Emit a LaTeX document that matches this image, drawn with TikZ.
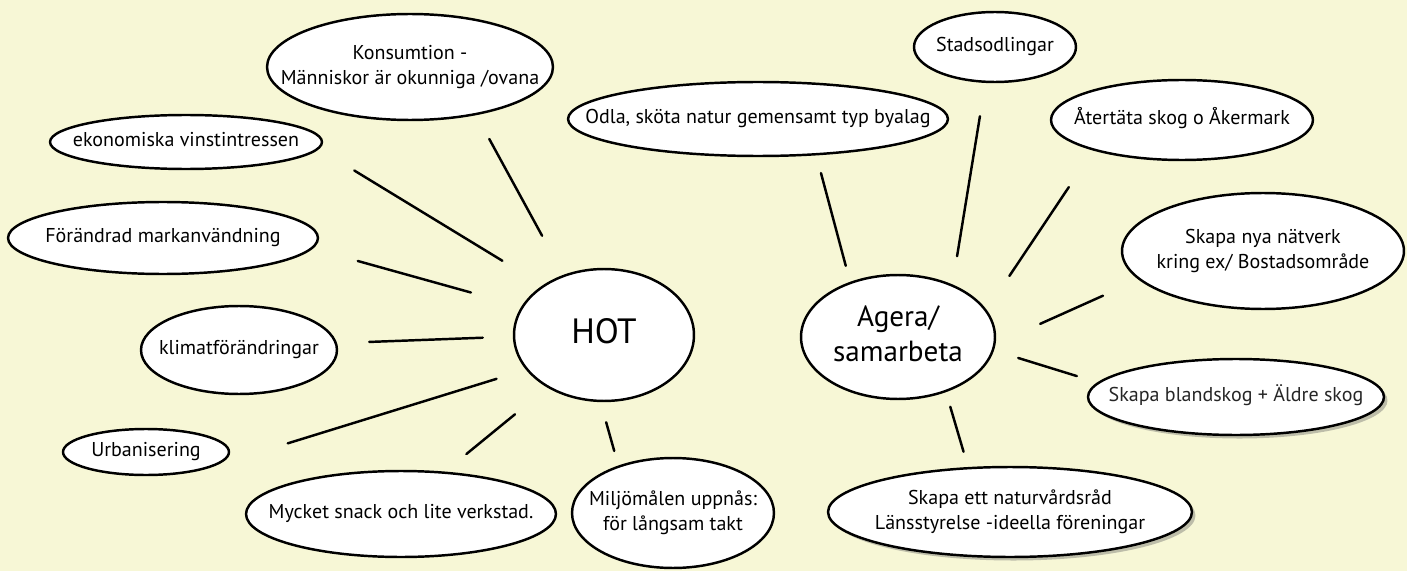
\documentclass[tikz,border=0pt]{standalone}
\usepackage{fontspec}
\setmainfont{PT Sans}
\usepackage{tikz}
\usetikzlibrary{shapes.geometric,shadows}
\definecolor{bgcream}{HTML}{F7F7D6}
% text that does not widen its ellipse
\newcommand{\bubtext}[1]{\makebox[0pt]{\begin{tabular}{@{}c@{}}#1\end{tabular}}}

\begin{document}
\begin{tikzpicture}[x=0.02cm,y=-0.02cm,
  bubble/.style={ellipse,draw=black,line width=1.4pt,fill=white,inner sep=0pt,
    font=\fontsize{11.4}{14}\selectfont},
  shadowed/.style={drop shadow={shadow xshift=2pt,shadow yshift=-2pt,opacity=.4,fill=black!60}},
  spoke/.style={line width=1.4pt,line cap=round}]
\fill[bgcream] (0,0) rectangle (1407,571);
\useasboundingbox (0,0) rectangle (1407,571);

% the two hubs
\node[bubble,minimum width=3.6cm,minimum height=2.64cm,font=\fontsize{20}{24}\selectfont] (hot) at (604,335) {\bubtext{HOT}};
\node[bubble,minimum width=3.88cm,minimum height=2.48cm,font=\fontsize{16.6}{20}\selectfont] (agera) at (898,337) {\bubtext{Agera/\\samarbeta}};

% threats
\node[bubble,minimum width=5.72cm,minimum height=2.12cm] (konsum) at (410,67) {\bubtext{Konsumtion -\\Människor är okunniga /ovana}};
\node[bubble,minimum width=5.44cm,minimum height=1.08cm] (ekon) at (186,142) {\bubtext{ekonomiska vinstintressen}};
\node[bubble,minimum width=6.2cm,minimum height=1.44cm] (mark) at (163,238) {\bubtext{Förändrad markanvändning}};
\node[bubble,minimum width=3.92cm,minimum height=1.76cm] (klimat) at (239,350) {\bubtext{klimatförändringar}};
\node[bubble,minimum width=3.32cm,minimum height=0.92cm] (urban) at (146,452) {\bubtext{Urbanisering}};
\node[bubble,minimum width=6.2cm,minimum height=1.72cm] (snack) at (401,514) {\bubtext{Mycket snack och lite verkstad.}};
\node[bubble,minimum width=4.04cm,minimum height=2.2cm] (miljo) at (673,513) {\bubtext{Miljömålen uppnås:\\för långsam takt}};

% actions
\node[bubble,minimum width=7.6cm,minimum height=1.48cm] (odla) at (758,119) {\bubtext{Odla, sköta natur gemensamt typ byalag}};
\node[bubble,minimum width=3.24cm,minimum height=1.4cm] (stads) at (995,47) {\bubtext{Stadsodlingar}};
\node[bubble,minimum width=5.24cm,minimum height=1.6cm] (atert) at (1182,120) {\bubtext{Återtäta skog o Åkermark}};
\node[bubble,minimum width=5.64cm,minimum height=2.32cm] (natverk) at (1263,251) {\bubtext{Skapa nya nätverk\\kring ex/ Bostadsområde}};
\node[bubble,shadowed,minimum width=5.92cm,minimum height=1.52cm,text=black!85] (bland) at (1236,397) {\bubtext{Skapa blandskog + Äldre skog}};
\node[bubble,shadowed,minimum width=7.28cm,minimum height=1.8cm] (natur) at (1010,512) {\bubtext{Skapa ett naturvårdsråd\\Länsstyrelse -ideella föreningar}};

% spokes, loose from both ends
\draw[spoke,shorten <=0.89cm,shorten >=0.542cm] (hot.124.6) -- (konsum.-36);
\draw[spoke,shorten <=0.942cm,shorten >=0.828cm] (hot.141.3) -- (ekon.-3.3);
\draw[spoke,shorten <=1.048cm,shorten >=0.932cm] (hot.161) -- (mark.-4.1);
\draw[spoke,shorten <=0.602cm,shorten >=0.644cm] (hot.181.3) -- (klimat.4.1);
\draw[spoke,shorten <=0.616cm,shorten >=1.874cm] (hot.204.4) -- (urban.-20);
\draw[spoke,shorten <=0.84cm,shorten >=0.554cm] (hot.-137.8) -- (snack.44.9);
\draw[spoke,shorten <=0.418cm,shorten >=0.302cm] (hot.-93.3) -- (miljo.139.2);

\draw[spoke,shorten <=0.332cm,shorten >=0.366cm] (agera.131.3) -- (odla.-32.3);
\draw[spoke,shorten <=0.572cm,shorten >=0.674cm] (agera.44.2) -- (stads.-105.1);
\draw[spoke,shorten <=0.816cm,shorten >=0.88cm] (agera.17.3) -- (atert.-161.5);
\draw[spoke,shorten <=0.976cm,shorten >=0.782cm] (agera.-4.1) -- (natverk.-167.2);
\draw[spoke,shorten <=0.508cm,shorten >=0.432cm] (agera.-8) -- (bland.174.4);
\draw[spoke,shorten <=0.304cm,shorten >=0.318cm] (agera.-49.6) -- (natur.133.3);

\end{tikzpicture}
\end{document}
